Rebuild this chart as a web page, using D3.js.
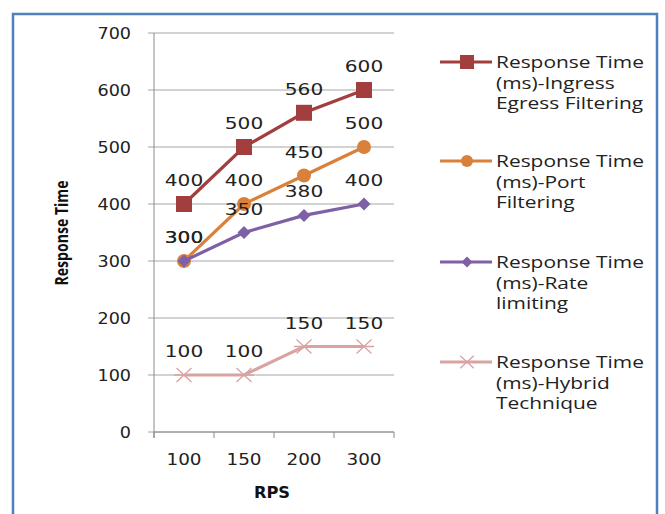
<!DOCTYPE html>
<html><head><meta charset="utf-8">
<script src="https://cdn.jsdelivr.net/npm/d3@7"></script>
<style>body{margin:0;background:#fff}svg{display:block}</style>
</head><body>
<script>
const categories = ["100","150","200","300"];
const seriesNames = ["Response Time (ms)-Ingress Egress Filtering","Response Time (ms)-Port Filtering","Response Time (ms)-Rate limiting","Response Time (ms)-Hybrid Technique"];
const legendLines = [["Response Time","(ms)-Ingress","Egress Filtering"],["Response Time","(ms)-Port","Filtering"],["Response Time","(ms)-Rate","limiting"],["Response Time","(ms)-Hybrid","Technique"]];
const ingress = [400,500,560,600];
const port = [300,400,450,500];
const rate = [300,350,380,400];
const hybrid = [100,100,150,150];
const yTicks = [0,100,200,300,400,500,600,700];
const colors = ["#A33E3E","#D9803A","#7E60A6","#D9A3A3"];
const markers = ["square","circle","diamond","star"];
const series = [ingress, port, rate, hybrid];

const W=665,H=514;
const svg=d3.select("body").append("svg").attr("width",W).attr("height",H);
svg.append("rect").attr("width",W).attr("height",H).attr("fill","#fff");
svg.append("path").attr("d","M13,520 L13,14 L657,14 L657,520").attr("fill","none").attr("stroke","#4F81BD").attr("stroke-width",2.5);

const x=d3.scaleBand().domain(categories).range([154,394]);
const y=d3.scaleLinear().domain([0,700]).range([432,33]);
const numFont="DejaVu Sans";

function stretchText(g,tx,ty,sx,txt,anchor,size,font,weight){
  const t=g.append("g").attr("transform",`translate(${tx},${ty}) scale(${sx},1)`);
  return t.append("text").attr("x",0).attr("y",0).attr("text-anchor",anchor||"start")
    .attr("font-family",font||numFont).attr("font-size",size||16).attr("font-weight",weight||"normal")
    .attr("fill","#222").text(txt);
}

svg.append("g").selectAll("line").data(yTicks).join("line")
  .attr("x1",148).attr("x2",394).attr("y1",d=>y(d)).attr("y2",d=>y(d))
  .attr("stroke","#a6a6a6").attr("stroke-width",1);
svg.append("line").attr("x1",154).attr("x2",154).attr("y1",33).attr("y2",438).attr("stroke","#8c8c8c").attr("stroke-width",1);
svg.append("g").selectAll("line").data(categories.concat(["end"])).join("line")
  .attr("x1",(d,i)=>i<categories.length? x(d): x.range()[1]).attr("x2",(d,i)=>i<categories.length? x(d): x.range()[1])
  .attr("y1",432).attr("y2",438).attr("stroke","#8c8c8c");
svg.append("line").attr("x1",154).attr("x2",394).attr("y1",432).attr("y2",432).attr("stroke","#8c8c8c");

const gy=svg.append("g");
yTicks.forEach(d=>stretchText(gy,131,y(d)+6,1.1,d,"end",16));
const gx=svg.append("g");
categories.forEach(d=>stretchText(gx,x(d)+x.bandwidth()/2,465,1.15,d,"middle",16));

stretchText(svg,272,498,1.05,"RPS","middle",15.5,numFont,"bold").attr("fill","#111");
svg.append("text").attr("transform","translate(68,233) rotate(-90)").attr("text-anchor","middle")
  .attr("font-family","Open Sans").attr("font-weight","700").attr("font-size",17).attr("fill","#111")
  .attr("textLength",105).attr("lengthAdjust","spacingAndGlyphs").text("Response Time");

function drawMarker(g,type,cx,cy,color,s){
  if(type==="square") g.append("rect").attr("x",cx-s).attr("y",cy-s).attr("width",2*s).attr("height",2*s).attr("fill",color);
  else if(type==="circle") g.append("circle").attr("cx",cx).attr("cy",cy).attr("r",s).attr("fill",color);
  else if(type==="diamond") g.append("path").attr("d",`M${cx},${cy-s}L${cx+s},${cy}L${cx},${cy+s}L${cx-s},${cy}Z`).attr("fill",color);
  else { const r=s+2;
    g.append("path").attr("d",`M${cx-r},${cy}L${cx+r},${cy}M${cx-r*0.75},${cy-r*0.7}L${cx+r*0.75},${cy+r*0.7}M${cx-r*0.75},${cy+r*0.7}L${cx+r*0.75},${cy-r*0.7}`)
      .attr("stroke",color).attr("stroke-width",1.3).attr("fill","none");
  }
}
const msize=[8,7,6.5,8];
const line=d3.line().x((d,i)=>x(categories[i])+x.bandwidth()/2).y(d=>y(d));
series.forEach((s,k)=>{
  const g=svg.append("g");
  g.append("path").datum(s).attr("d",line).attr("fill","none").attr("stroke",colors[k]).attr("stroke-width",3.2);
  s.forEach((v,i)=>drawMarker(g,markers[k],x(categories[i])+x.bandwidth()/2,y(v),colors[k],msize[k]));
});
series.forEach((s,k)=>{
  const g=svg.append("g");
  s.forEach((d,i)=>stretchText(g,x(categories[i])+x.bandwidth()/2,y(d)-18,1.22,d,"middle",16.5));
});

const legY=[62,161,262,362];
legendLines.forEach((lines,k)=>{
  const g=svg.append("g");
  const ly=legY[k];
  g.append("line").attr("x1",440).attr("x2",492).attr("y1",ly).attr("y2",ly).attr("stroke",colors[k]).attr("stroke-width",3.2);
  drawMarker(g,markers[k],467,ly,colors[k],msize[k]-1);
  lines.forEach((t,j)=>stretchText(g,496,ly+6+j*20.5,1.35,t,"start",15.5,"Open Sans"));
});
</script>
</body></html>
